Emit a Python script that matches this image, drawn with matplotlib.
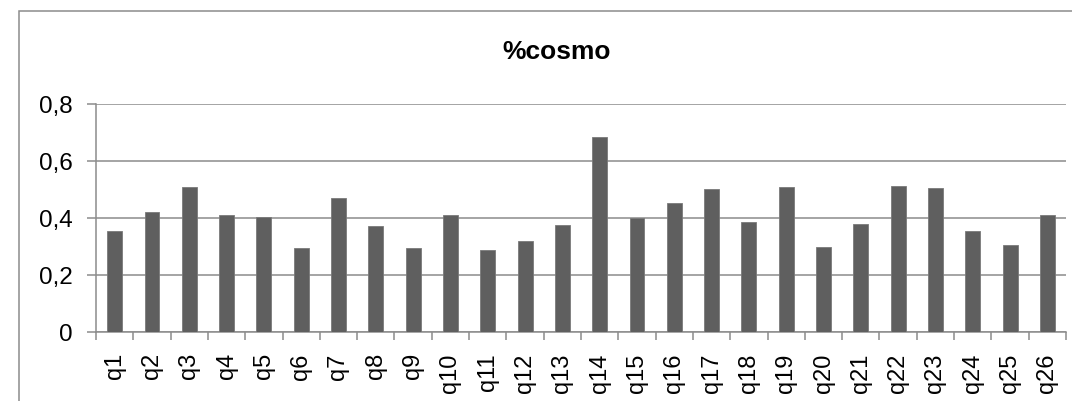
import numpy as np
import matplotlib
matplotlib.use("Agg")
import matplotlib.pyplot as plt
from matplotlib.patches import Rectangle

# ---- data ----
categories = [f"q{i}" for i in range(1, 27)]
values = [0.356, 0.423, 0.510, 0.411, 0.403, 0.296, 0.471, 0.372, 0.294, 0.410,
          0.289, 0.321, 0.376, 0.683, 0.400, 0.454, 0.502, 0.387, 0.510, 0.298,
          0.381, 0.512, 0.505, 0.354, 0.305, 0.411]
yticks = [0, 0.2, 0.4, 0.6, 0.8]
ytick_labels = ["0", "0,2", "0,4", "0,6", "0,8"]
title = "%cosmo"

plt.rcParams["font.family"] = ["Liberation Sans", "DejaVu Sans"]

GRAY = "#8c8c8c"
BAR = "#5f5f5f"

fig = plt.figure(figsize=(10.72, 4.01), dpi=100)
ax = fig.add_axes([96 / 1072, 1 - 332.3 / 401, 970 / 1072, 228.3 / 401])

x = np.arange(len(categories))
ax.bar(x, values, width=0.4, color=BAR, edgecolor="#7a7a7a", linewidth=0.6, zorder=3)

ax.set_xlim(-0.5, len(categories) - 0.5)
ax.set_ylim(0, 0.8)
ax.set_yticks(yticks)
ax.set_yticklabels(ytick_labels)
ax.yaxis.grid(True, color=GRAY, linewidth=1.1, zorder=0)

ax.set_xticks(x)
ax.set_xticklabels(categories, rotation=90, fontsize=17)
ax.set_xticks(np.arange(len(categories) + 1) - 0.5, minor=True)
ax.tick_params(axis="x", which="major", length=0, pad=15)
ax.tick_params(axis="x", which="minor", length=6, width=1.1, color=GRAY)
ax.tick_params(axis="y", length=6.5, width=1.1, color=GRAY, labelsize=17.5, pad=10)

for s in ["top", "right"]:
    ax.spines[s].set_visible(False)
for s in ["left", "bottom"]:
    ax.spines[s].set_color(GRAY)
    ax.spines[s].set_linewidth(1.1)

fig.text(557 / 1072, 1 - 52 / 401, title, ha="center", va="center",
         fontsize=19, fontweight="bold")

# outer chart border (cut off at right and bottom like the reference)
fig.patches.append(Rectangle((19 / 1072, -0.05), 1.1, 1.05 - 10.7 / 401,
                             transform=fig.transFigure, fill=False,
                             edgecolor=GRAY, linewidth=1.1))

fig.savefig("out.png", dpi=100)
